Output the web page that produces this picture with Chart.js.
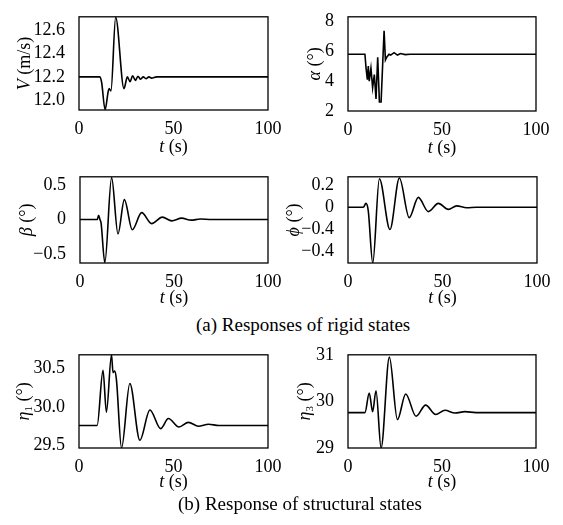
<!DOCTYPE html>
<html>
<head>
<meta charset="utf-8">
<script src="https://cdn.jsdelivr.net/npm/chart.js@4.4.1/dist/chart.umd.min.js"></script>
<style>
  body { margin: 0; background: #fff; }
  #page { position: relative; width: 563px; height: 525px; overflow: hidden; }
  canvas { position: absolute; }
  .cap { position: absolute; font: 19px "Liberation Serif", serif; color: #000; white-space: nowrap; line-height: 22px; }
</style>
</head>
<body>
<div id="page">
  <canvas id="cV" width="285" height="160" style="left:0;top:0"></canvas>
  <canvas id="cAlpha" width="278" height="160" style="left:285px;top:0"></canvas>
  <canvas id="cBeta" width="285" height="150" style="left:0;top:160px"></canvas>
  <canvas id="cPhi" width="278" height="150" style="left:285px;top:160px"></canvas>
  <div class="cap" style="left:196px;top:314px">(a) Responses of rigid states</div>
  <canvas id="cEta1" width="285" height="157" style="left:0;top:338px"></canvas>
  <canvas id="cEta3" width="278" height="157" style="left:285px;top:338px"></canvas>
  <div class="cap" style="left:178px;top:493px">(b) Response of structural states</div>
</div>
<script>
// time axis (s)
var xTicks = [0, 50, 100];

// V (m/s)
var vTime  = [0, 11.1, 12.0, 13.8, 15.5, 16.0, 16.9, 19.4, 23.8, 25.6, 27.0, 28.4, 29.8, 31.2, 32.6, 34.0, 35.4, 37.0, 38.4, 41, 100];
var vSpeed = [12.2, 12.2, 12.15, 11.92, 12.08, 12.1, 12.08, 12.71, 12.1, 12.2, 12.16, 12.21, 12.17, 12.205, 12.18, 12.2, 12.185, 12.2, 12.19, 12.2, 12.2];
var vTicks = [12.0, 12.2, 12.4, 12.6];
var vLabels = ['12.0', '12.2', '12.4', '12.6'];

// alpha (deg)
var alphaTime = [0, 9.0, 9.6, 10.3, 10.8, 11.3, 12.2, 13.1, 14.0, 14.9, 15.8, 16.7, 17.6, 18.5, 19.2, 19.9, 20.6, 21.8, 22.7, 24.5, 26.3, 28.0, 30.4, 33, 100];
var alphaDeg  = [5.8, 5.8, 4.87, 4.1, 5.0, 4.0, 4.87, 3.56, 4.44, 2.8, 5.6, 2.6, 2.6, 5.3, 7.37, 5.41, 5.6, 5.8, 5.74, 5.9, 5.74, 5.84, 5.77, 5.8, 5.8];
var alphaTicks = [2, 4, 6, 8];
var alphaLabels = ['2', '4', '6', '8'];

// beta (deg)
var betaTime = [0, 9.2, 9.9, 10.6, 11.2, 13.2, 16.8, 20.2, 23.6, 27.8, 32.8, 38.1, 43.8, 48.8, 54.1, 59.1, 64, 70, 100];
var betaDeg  = [0, 0, 0.06, 0, -0.05, -0.63, 0.61, -0.21, 0.29, -0.15, 0.1, -0.06, 0.035, -0.02, 0.02, -0.01, 0.007, 0, 0];
var betaTicks = [-0.5, 0, 0.5];
var betaLabels = ['\u22120.5', '0', '0.5'];

// phi (deg)
var phiTime = [0, 8.1, 9.5, 10.7, 13.1, 16.6, 22.2, 27.2, 32.4, 37.2, 42.5, 47.8, 53.1, 57.5, 62.8, 68, 100];
var phiDeg  = [0, 0, 0.035, -0.03, -0.51, 0.26, -0.204, 0.267, -0.095, 0.09, -0.04, 0.035, -0.02, 0.012, -0.005, 0, 0];
var phiTicks = [-0.4, -0.2, 0, 0.2];
var phiLabels = ['\u22120.4', '\u22120.4', '0', '0.2'];

// eta1 (deg)
var eta1Time = [0, 9.6, 12.7, 14.5, 17.2, 18.0, 18.9, 19.8, 22.5, 26.9, 32.2, 37.5, 43.2, 47.3, 52.9, 57.9, 63.2, 68.5, 74, 100];
var eta1Deg  = [29.76, 29.76, 30.47, 29.93, 30.67, 30.44, 30.46, 30.35, 29.47, 30.30, 29.57, 29.96, 29.72, 29.85, 29.74, 29.80, 29.75, 29.775, 29.76, 29.76];
var eta1Ticks = [29.5, 30.0, 30.5];
var eta1Labels = ['29.5', '30.0', '30.5'];

// eta3 (deg)
var eta3Time = [0, 9.0, 11.3, 13.1, 14.9, 17.6, 22.0, 26.3, 30.7, 36.2, 41.3, 46.6, 51.6, 56.9, 62.2, 68, 100];
var eta3Deg  = [29.76, 29.76, 30.18, 29.78, 30.23, 29.0, 30.95, 29.61, 30.16, 29.68, 29.92, 29.72, 29.81, 29.75, 29.78, 29.76, 29.76];
var eta3Ticks = [29, 30, 31];
var eta3Labels = ['29', '30', '31'];

var FAMILY = '"Liberation Serif", "DejaVu Serif", serif';

// draws a label made of parts: [text, style] where style is '', 'i' (italic) or 's' (subscript)
function drawRich(ctx, parts, cx, cy, rot) {
    ctx.save();
    ctx.translate(cx, cy);
    ctx.rotate(rot);
    ctx.textBaseline = 'middle';
    ctx.textAlign = 'left';
    ctx.fillStyle = '#000';
    var fonts = parts.map(function(p) {
        if (p[1] === 'i') return 'italic 18px ' + FAMILY;
        if (p[1] === 's') return '11px ' + FAMILY;
        return '18px ' + FAMILY;
    });
    var widths = parts.map(function(p, i) {
        ctx.font = fonts[i];
        return ctx.measureText(p[0]).width;
    });
    var x = -widths.reduce(function(a, b) { return a + b; }, 0) / 2;
    parts.forEach(function(p, i) {
        ctx.font = fonts[i];
        ctx.fillText(p[0], x, p[1] === 's' ? 5 : 0);
        x += widths[i];
    });
    ctx.restore();
}

function makePanel(id, p) {
    var canvas = document.getElementById(id);
    var box = p.box, plot = p.plot;
    var points = p.t.map(function(t, i) { return { x: t, y: p.v[i] }; });

    var framePlugin = {
        id: 'frame' + id,
        afterDatasetsDraw: function(chart) {
            var a = chart.chartArea, ctx = chart.ctx;
            ctx.save();
            ctx.strokeStyle = '#000';
            ctx.lineWidth = 1.3;
            ctx.strokeRect(a.left, a.top, a.right - a.left, a.bottom - a.top);
            ctx.restore();
            drawRich(ctx, p.xTitle, (a.left + a.right) / 2, a.bottom + p.xGap, 0);
            drawRich(ctx, p.yTitle, a.left - p.yGap, (a.top + a.bottom) / 2, -Math.PI / 2);
        }
    };

    return new Chart(canvas, {
        type: 'line',
        data: {
            datasets: [{
                data: points,
                borderColor: '#000',
                borderWidth: 1.6,
                pointRadius: 0,
                tension: 0,
                cubicInterpolationMode: p.smooth ? 'monotone' : 'default'
            }]
        },
        options: {
            responsive: false,
            animation: false,
            events: [],
            layout: {
                padding: { left: 0, top: plot[1] - box[1], right: box[0] + box[2] - plot[2], bottom: 0 }
            },
            plugins: { legend: { display: false }, tooltip: { enabled: false } },
            scales: {
                x: {
                    type: 'linear', min: 0, max: 100,
                    grid: { display: false }, border: { display: false },
                    afterBuildTicks: function(s) { s.ticks = xTicks.map(function(v) { return { value: v }; }); },
                    afterFit: function(s) { s.height = box[1] + box[3] - plot[3]; },
                    ticks: { color: '#000', padding: 0, maxRotation: 0, autoSkip: false, font: { family: FAMILY, size: 18 } }
                },
                y: {
                    type: 'linear', min: p.min, max: p.max,
                    grid: { display: false }, border: { display: false },
                    afterBuildTicks: function(s) { s.ticks = p.ticks.map(function(v) { return { value: v }; }); },
                    afterFit: function(s) { s.width = plot[0] - box[0]; },
                    ticks: {
                        color: '#000', padding: 6, autoSkip: false, font: { family: FAMILY, size: 18 },
                        callback: function(val, i) { return p.labels[i]; }
                    }
                }
            }
        },
        plugins: [framePlugin]
    });
}

var tTitle = [['t', 'i'], [' (s)', '']];

makePanel('cV', {
    box: [0, 0, 285, 160], plot: [79, 14, 268, 110],
    t: vTime, v: vSpeed, min: 11.917, max: 12.714, ticks: vTicks, labels: vLabels,
    smooth: true, xTitle: tTitle, xGap: 37, yTitle: [['V', 'i'], [' (m/s)', '']], yGap: 54
});
makePanel('cAlpha', {
    box: [285, 0, 278, 160], plot: [348, 14, 536, 111],
    t: alphaTime, v: alphaDeg, min: 2, max: 8.3, ticks: alphaTicks, labels: alphaLabels,
    smooth: false, xTitle: tTitle, xGap: 37, yTitle: [['\u03b1', 'i'], [' (\u00b0)', '']], yGap: 33
});
makePanel('cBeta', {
    box: [0, 160, 285, 150], plot: [80, 167, 268, 263],
    t: betaTime, v: betaDeg, min: -0.634, max: 0.622, ticks: betaTicks, labels: betaLabels,
    smooth: true, xTitle: tTitle, xGap: 35, yTitle: [['\u03b2', 'i'], [' (\u00b0)', '']], yGap: 53
});
makePanel('cPhi', {
    box: [285, 160, 278, 150], plot: [348, 166, 537, 263],
    t: phiTime, v: phiDeg, min: -0.51, max: 0.278, ticks: phiTicks, labels: phiLabels,
    smooth: true, xTitle: tTitle, xGap: 35, yTitle: [['\u03d5', 'i'], [' (\u00b0)', '']], yGap: 54
});
makePanel('cEta1', {
    box: [0, 338, 285, 157], plot: [79, 352, 268, 448],
    t: eta1Time, v: eta1Deg, min: 29.47, max: 30.67, ticks: eta1Ticks, labels: eta1Labels,
    smooth: true, xTitle: tTitle, xGap: 34, yTitle: [['\u03b7', 'i'], ['1', 's'], [' (\u00b0)', '']], yGap: 55
});
makePanel('cEta3', {
    box: [285, 338, 278, 157], plot: [348, 351, 536, 448],
    t: eta3Time, v: eta3Deg, min: 29, max: 31, ticks: eta3Ticks, labels: eta3Labels,
    smooth: true, xTitle: tTitle, xGap: 34, yTitle: [['\u03b7', 'i'], ['3', 's'], [' (\u00b0)', '']], yGap: 43
});
</script>
</body>
</html>
